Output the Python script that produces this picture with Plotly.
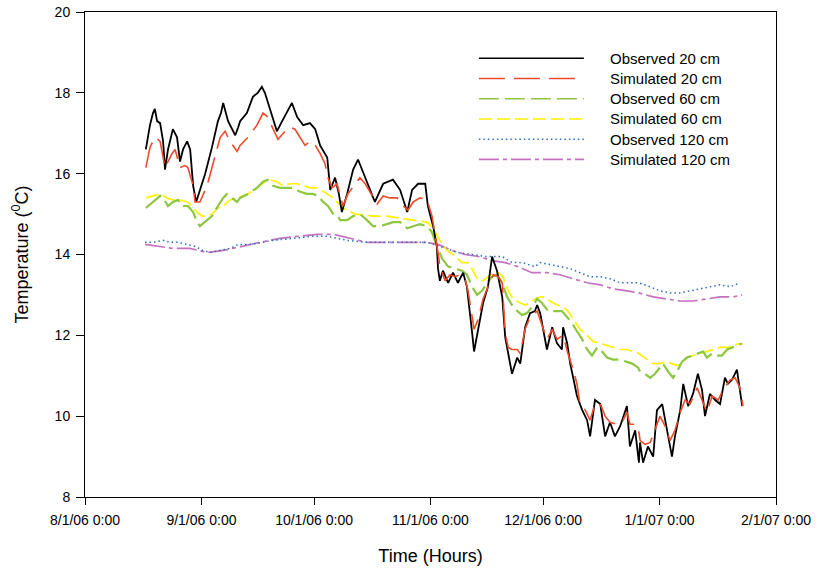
import pandas as pd
import plotly.graph_objects as go

# Time is stored as days since 8/1/06 0:00, temperatures in deg C
BASE = "2006-08-01"

obs20_day = [16.2, 17.3, 18.1, 18.6, 19.2, 20.0, 20.8, 21.3, 22.1, 23.4, 24.5, 25.3, 26.1, 27.2, 28.0,
             28.8, 29.6, 30.6, 32.0, 33.8, 35.4, 36.2, 36.8, 38.1, 40.0, 40.8, 41.3, 43.1, 44.7, 46.0,
             47.1, 47.9, 49.3, 51.1, 52.5, 55.1, 56.5, 58.1, 59.9, 61.3, 62.6, 64.5, 65.3, 66.6, 67.6,
             68.4, 69.8, 71.4, 72.7, 74.0, 75.9, 77.2, 79.4, 82.0, 83.9, 85.8, 87.1, 88.7, 90.6, 91.3,
             92.7, 93.7, 94.0, 94.5, 95.3, 96.7, 98.0, 99.3, 100.7, 101.7, 103.1, 103.6, 104.7, 106.0,
             107.3, 108.4, 109.7, 111.1, 111.9, 112.7, 113.7, 115.1, 115.9, 117.2, 118.5, 119.8, 120.4,
             121.2, 123.0, 124.4, 125.7, 127.0, 127.3, 128.4, 129.2, 130.0, 131.0, 132.4, 133.7, 134.5,
             135.8, 137.2, 138.5, 139.8, 141.1, 142.5, 144.3, 145.1, 146.5, 147.5, 147.8, 148.6, 149.9,
             151.3, 152.3, 153.7, 155.0, 156.3, 157.1, 158.5, 159.3, 160.6, 161.9, 163.2, 164.3, 165.1,
             166.4, 167.8, 169.1, 170.4, 171.2, 172.3, 173.6, 174.4, 175.0]
obs20_val = [16.6, 17.2, 17.5, 17.6, 17.3, 17.25, 16.8, 16.1, 16.6, 17.1, 16.9, 16.3, 16.6, 16.8, 16.6,
             15.7, 15.3, 15.6, 16.0, 16.65, 17.3, 17.5, 17.75, 17.3, 16.95, 17.15, 17.3, 17.5, 17.9, 18.0,
             18.15, 18.0, 17.6, 17.05, 17.3, 17.75, 17.4, 17.2, 17.25, 17.1, 16.7, 16.4, 15.6, 15.9, 15.5,
             15.05, 15.5, 16.1, 16.35, 16.05, 15.6, 15.3, 15.75, 15.85, 15.6, 15.05, 15.6, 15.75, 15.75, 15.2,
             14.7, 14.2, 13.65, 13.35, 13.6, 13.3, 13.55, 13.3, 13.55, 13.2, 12.05, 11.6, 12.15, 12.8,
             13.2, 13.95, 13.6, 12.95, 11.95, 11.55, 11.05, 11.45, 11.3, 12.2, 12.55, 12.6, 12.75,
             12.55, 11.65, 12.2, 11.8, 11.65, 12.2, 11.8, 11.3, 10.95, 10.5, 10.15, 9.9, 9.5,
             10.4, 10.3, 9.5, 9.85, 9.5, 9.75, 10.25, 9.25, 9.65, 8.85, 9.35, 8.85, 9.25,
             9.0, 10.15, 10.3, 9.65, 9.0, 9.5, 10.15, 10.8, 10.25, 10.55, 11.05, 10.65, 10.0,
             10.55, 10.4, 10.3, 10.95, 10.8, 10.9, 11.15, 10.65, 10.25]

sim20_day = [16.2, 17.3, 18.6, 20.0, 21.3, 23.2, 24.0, 25.3, 26.6, 27.4, 28.8, 29.3, 30.6, 32.5, 34.1,
             36.0, 37.3, 38.6, 40.5, 41.3, 43.4, 45.8, 47.4, 48.7, 50.1, 51.4, 53.3, 54.6, 55.9, 57.3,
             58.6, 59.9, 61.3, 62.6, 63.9, 64.7, 65.8, 67.1, 68.7, 70.0, 71.9, 73.2, 74.6, 76.4, 77.8,
             79.4, 81.2, 83.1, 84.7, 86.0, 87.4, 89.2, 91.1, 92.4, 93.2, 94.0, 94.5, 95.9, 97.2, 98.5,
             99.9, 101.2, 102.0, 103.1, 103.6, 104.7, 106.0, 107.3, 108.7, 110.0, 111.1, 111.9, 112.7,
             113.7, 115.1, 115.9, 117.2, 118.5, 120.4, 123.0, 124.4, 125.7, 127.3, 128.6, 130.0, 131.0,
             131.8, 133.2, 134.5, 135.8, 137.2, 138.5, 139.8, 141.7, 143.3, 144.3, 145.1, 146.5, 147.5,
             147.8, 149.1, 150.5, 151.8, 153.1, 154.5, 155.8, 157.1, 158.5, 159.8, 161.1, 163.0, 164.6,
             165.6, 167.0, 168.6, 169.9, 171.8, 173.1, 174.4, 175.2]
sim20_val = [16.15, 16.65, 16.9, 16.8, 16.15, 16.5, 16.6, 16.15, 16.2, 16.15, 15.7, 15.3, 15.3, 15.7, 16.25,
             16.9, 17.05, 16.8, 16.55, 16.7, 16.9, 17.2, 17.5, 17.4, 17.1, 16.85, 17.05, 17.15, 17.1, 16.9,
             16.7, 16.8, 16.7, 16.5, 16.25, 15.9, 15.65, 15.75, 15.2, 15.5, 15.75, 15.9, 15.75, 15.45, 15.25,
             15.45, 15.4, 15.4, 15.2, 15.1, 15.3, 15.4, 15.35, 14.95, 14.55, 14.05, 13.7, 13.35, 13.5, 13.45,
             13.5, 13.4, 13.1, 12.45, 12.15, 12.4, 12.9, 13.2, 13.5, 13.45, 13.3, 12.05, 11.7,
             11.65, 11.65, 11.55, 12.15, 12.45, 12.6, 11.9, 12.15, 11.9, 12.0, 11.55, 11.15, 10.8,
             10.3, 10.15, 9.9, 10.3, 10.3, 10.0, 9.85, 9.8, 9.9, 10.1, 9.8, 9.8, 9.6,
             9.4, 9.3, 9.35, 9.65, 10.0, 9.75, 9.4, 9.65, 10.1, 10.4, 10.3, 10.7, 10.3,
             10.1, 10.5, 10.4, 10.65, 10.9, 10.95, 10.7, 10.25]

obs60_day = [16.2, 18.1, 20.0, 20.8, 22.1, 23.4, 24.8, 25.8, 27.4, 28.8, 29.8, 30.6, 32.0, 33.8, 35.4,
             36.8, 37.8, 39.2, 40.5, 41.3, 43.4, 45.8, 47.4, 48.7, 50.1, 51.9, 53.8, 55.4, 57.3, 59.1,
             60.7, 62.1, 63.4, 64.7, 66.1, 67.4, 67.9, 69.8, 71.4, 73.2, 75.1, 76.7, 78.6, 80.4, 82.0,
             83.9, 85.8, 87.4, 89.2, 91.1, 92.4, 93.7, 95.1, 96.7, 98.5, 100.4, 101.7, 103.1, 104.4,
             105.7, 107.1, 108.4, 109.7, 111.1, 112.4, 113.7, 115.1, 116.4, 117.7, 119.0, 120.4, 121.7,
             123.3, 125.2, 127.0, 128.4, 129.7, 131.0, 132.4, 133.7, 135.0, 136.4, 137.7, 139.0, 140.6,
             142.5, 144.3, 145.7, 147.3, 147.8, 149.1, 150.5, 151.8, 153.1, 153.9, 155.3, 156.6, 157.9,
             159.0, 160.3, 161.9, 163.3, 164.6, 165.6, 167.0, 168.3, 169.6, 171.0, 172.3, 173.6, 175.0]
obs60_val = [15.15, 15.3, 15.45, 15.4, 15.2, 15.3, 15.35, 15.2, 15.2, 15.05, 14.8, 14.7, 14.8, 14.95, 15.2,
             15.4, 15.5, 15.4, 15.3, 15.4, 15.5, 15.65, 15.8, 15.85, 15.7, 15.65, 15.65, 15.65, 15.55, 15.5,
             15.5, 15.45, 15.3, 15.2, 15.0, 14.95, 14.85, 14.85, 14.95, 15.0, 14.85, 14.7, 14.7, 14.75, 14.8,
             14.8, 14.65, 14.7, 14.75, 14.7, 14.55, 14.2, 13.9, 13.7, 13.65, 13.6, 13.5, 13.2, 13.0,
             13.1, 13.3, 13.45, 13.5, 13.3, 12.95, 12.75, 12.6, 12.5, 12.55, 12.7, 12.9, 12.8,
             12.6, 12.6, 12.6, 12.45, 12.3, 12.1, 11.9, 11.65, 11.5, 11.7, 11.6, 11.45, 11.4,
             11.4, 11.35, 11.3, 11.2, 11.1, 11.05, 10.95, 11.05, 11.2, 11.3, 11.1, 10.95, 11.15,
             11.35, 11.45, 11.5, 11.55, 11.6, 11.45, 11.55, 11.5, 11.5, 11.65, 11.7, 11.75, 11.8]

sim60_day = [16.2, 18.1, 20.0, 21.8, 23.4, 25.3, 27.2, 28.5, 29.8, 31.2, 32.5, 33.8, 35.4, 36.8, 38.6,
             40.5, 43.4, 45.8, 47.9, 49.3, 51.1, 52.7, 54.6, 56.5, 58.1, 59.9, 61.8, 63.4, 65.3, 67.1,
             68.7, 71.9, 76.7, 80.4, 83.9, 87.4, 91.1, 92.7, 94.5, 96.4, 98.0, 100.4, 102.0, 103.3, 104.7,
             106.0, 107.3, 108.7, 110.0, 111.3, 112.7, 114.0, 115.9, 117.2, 118.5, 119.8, 121.2, 122.0,
             123.8, 125.7, 127.3, 128.6, 130.0, 131.8, 133.7, 135.3, 137.2, 139.0, 140.6, 142.5, 144.3,
             145.9, 147.5, 149.7, 151.3, 153.1, 155.0, 156.3, 157.7, 159.0, 160.3, 161.9, 163.8, 165.6,
             167.2, 169.1, 171.0, 172.6, 174.4]
sim60_val = [15.4, 15.45, 15.5, 15.4, 15.35, 15.35, 15.3, 15.2, 15.05, 14.95, 14.95, 15.0, 15.15, 15.2, 15.35,
             15.4, 15.5, 15.65, 15.8, 15.85, 15.8, 15.7, 15.75, 15.75, 15.7, 15.65, 15.65, 15.55, 15.45, 15.3,
             15.15, 15.0, 14.95, 14.95, 14.9, 14.85, 14.8, 14.65, 14.35, 14.1, 14.0, 13.8, 13.8, 13.6, 13.35,
             13.35, 13.45, 13.55, 13.55, 13.45, 13.1, 12.9, 12.8, 12.75, 12.8, 12.9, 12.95, 12.95,
             12.85, 12.75, 12.7, 12.6, 12.4, 12.15, 12.0, 11.85, 11.8, 11.75, 11.7, 11.65, 11.65,
             11.6, 11.55, 11.4, 11.3, 11.3, 11.35, 11.3, 11.25, 11.3, 11.45, 11.5, 11.55, 11.6,
             11.65, 11.7, 11.7, 11.75, 11.8]

obs120_day = [16.0, 18.1, 20.8, 22.6, 24.8, 27.2, 29.3, 31.4, 33.3, 35.9, 38.6, 40.8, 43.9, 50.1, 55.4,
              60.7, 64.5, 69.8, 75.1, 80.4, 85.8, 91.1, 94.5, 96.0, 99.3, 103.1, 106.5, 108.4, 111.1,
              113.7, 116.4, 119.8, 121.2, 123.8, 126.5, 129.2, 131.8, 134.5, 137.2, 139.8, 142.5, 145.1,
              147.5, 150.5, 153.1, 155.8, 158.5, 161.1, 163.8, 166.4, 169.1, 171.8, 174.4]
obs120_val = [14.3, 14.3, 14.35, 14.3, 14.3, 14.25, 14.2, 14.1, 14.05, 14.1, 14.15, 14.25, 14.25, 14.35, 14.4,
              14.45, 14.45, 14.35, 14.3, 14.3, 14.3, 14.3, 14.2, 14.15, 14.05, 14.0, 13.95, 13.95, 13.95,
              13.8, 13.8, 13.7, 13.8, 13.75, 13.7, 13.65, 13.55, 13.45, 13.45, 13.4, 13.3, 13.3,
              13.3, 13.2, 13.1, 13.05, 13.05, 13.1, 13.15, 13.2, 13.25, 13.2, 13.3]

sim120_day = [16.0, 20.0, 23.4, 27.9, 32.5, 36.8, 41.3, 46.6, 51.9, 57.3, 61.8, 66.1, 70.6, 75.1, 80.4,
              85.8, 91.1, 94.0, 97.7, 101.2, 104.7, 108.4, 111.9, 115.3, 119.0, 123.0, 126.5, 130.0,
              133.7, 137.2, 140.6, 144.3, 147.5, 151.3, 155.0, 158.5, 161.9, 165.6, 169.1, 172.6, 175.0]
sim120_val = [14.25, 14.2, 14.15, 14.15, 14.05, 14.1, 14.2, 14.3, 14.4, 14.45, 14.5, 14.5, 14.4, 14.3, 14.3,
              14.3, 14.3, 14.25, 14.1, 14.0, 13.95, 13.85, 13.8, 13.7, 13.55, 13.55, 13.5, 13.4,
              13.3, 13.25, 13.15, 13.1, 13.05, 12.95, 12.9, 12.85, 12.85, 12.9, 12.95, 12.95, 13.0]

series_names = ["Observed 20 cm", "Simulated 20 cm", "Observed 60 cm",
                "Simulated 60 cm", "Observed 120 cm", "Simulated 120 cm"]

x_tickvals = ["2006-08-01", "2006-09-01", "2006-10-01", "2006-11-01",
              "2006-12-01", "2007-01-01", "2007-02-01"]
x_ticktext = ["8/1/06 0:00", "9/1/06 0:00", "10/1/06 0:00", "11/1/06 0:00",
              "12/1/06 0:00", "1/1/07 0:00", "2/1/07 0:00"]
y_tickvals = [8, 10, 12, 14, 16, 18, 20]

styles = [
    dict(color="#000000", width=1.8, dash="solid"),
    dict(color="#EE4B2B", width=1.6, dash="26px,9px"),
    dict(color="#8DC63F", width=2.2, dash="20px,6px"),
    dict(color="#FFF000", width=1.7, dash="13px,5px"),
    dict(color="#2B6FC0", width=1.5, dash="1.5px,3px"),
    dict(color="#C572BE", width=1.7, dash="20px,4px,4px,4px"),
]

base = pd.Timestamp(BASE)


def to_time(days):
    return base + pd.to_timedelta(days, unit="D")


data = [(obs20_day, obs20_val), (sim20_day, sim20_val), (obs60_day, obs60_val),
        (sim60_day, sim60_val), (obs120_day, obs120_val), (sim120_day, sim120_val)]

fig = go.Figure()
# draw order: deeper/smoother first so the 20 cm lines sit on top
order = [5, 4, 3, 2, 0, 1]
for i in order:
    d, v = data[i]
    fig.add_trace(go.Scatter(x=to_time(d), y=v, mode="lines", name=series_names[i],
                             line=styles[i], showlegend=False))

# manual legend (long line samples as in the reference)
FONT = "Liberation Sans, Arial, sans-serif"
legend_y = [0.9045, 0.8629, 0.8212, 0.7794, 0.7377, 0.6961]
for i, name in enumerate(series_names):
    st = styles[i]
    fig.add_shape(type="line", xref="paper", yref="paper", x0=0.570, x1=0.722,
                  y0=legend_y[i], y1=legend_y[i],
                  line=dict(color=st["color"], width=min(st["width"], 1.6), dash=st["dash"]))
    fig.add_annotation(xref="paper", yref="paper", x=0.757, y=legend_y[i], text=name,
                       showarrow=False, xanchor="left", yanchor="middle",
                       font=dict(family=FONT, size=15, color="#000000"))

fig.update_layout(
    width=820, height=572,
    margin=dict(l=85, r=44, t=12, b=75, autoexpand=False),
    paper_bgcolor="white", plot_bgcolor="white",
    font=dict(family=FONT, color="#000000"),
    showlegend=False,
)
fig.update_xaxes(
    type="date", range=[x_tickvals[0], x_tickvals[-1]],
    tickvals=x_tickvals, ticktext=x_ticktext, automargin=False,
    ticklabeloverflow="allow", ticklabelstandoff=3,
    ticks="outside", ticklen=7, tickwidth=1, tickcolor="#000000",
    showline=True, linecolor="#000000", linewidth=1, mirror=True,
    showgrid=False, zeroline=False,
    tickfont=dict(family=FONT, size=14, color="#000000"),
    title=dict(text="Time (Hours)", font=dict(family=FONT, size=18, color="#000000"), standoff=22),
)
fig.update_yaxes(
    range=[8, 20], tickvals=y_tickvals, automargin=False,
    ticklabeloverflow="allow", ticklabelstandoff=3,
    ticks="outside", ticklen=8, tickwidth=1, tickcolor="#000000",
    showline=True, linecolor="#000000", linewidth=1, mirror=True,
    showgrid=False, zeroline=False,
    tickfont=dict(family=FONT, size=14, color="#000000"),
    title=dict(text="Temperature (<sup>0</sup>C)", font=dict(family=FONT, size=18, color="#000000"),
               standoff=21),
)

# remove the browser's default body margin so the figure sits at the window's top-left corner
fig.write_html("out.html", config={"displayModeBar": False},
               post_script="document.body.style.margin='0';")
